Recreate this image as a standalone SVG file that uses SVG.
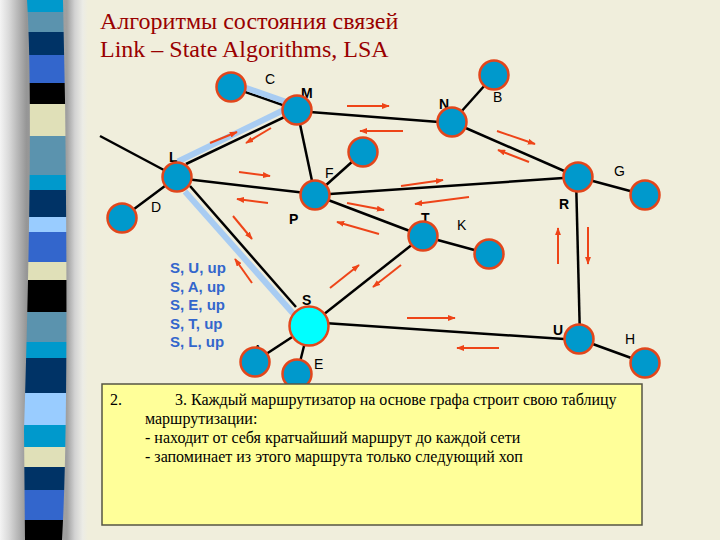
<svg xmlns="http://www.w3.org/2000/svg" width="720" height="540" viewBox="0 0 720 540">
<defs>
<linearGradient id="shade" gradientUnits="userSpaceOnUse" x1="0" y1="0" x2="88" y2="0">
<stop offset="0" stop-color="#F4F4F4"/>
<stop offset="0.1" stop-color="#DADADA"/>
<stop offset="0.3" stop-color="#969696"/>
<stop offset="0.76" stop-color="#A0A0A0"/>
<stop offset="0.85" stop-color="#D2D2D2"/>
<stop offset="0.94" stop-color="#ECECE6"/>
<stop offset="1" stop-color="#F0EEDC"/>
</linearGradient>
<clipPath id="col">
<path d="M27,0 Q34,110 24,430 L25,540 L62,540 Q69,420 65,100 L63,0 Z"/>
</clipPath>
<marker id="ah" viewBox="0 0 4 3" refX="3.6" refY="1.5" markerWidth="4" markerHeight="3" orient="auto" markerUnits="strokeWidth">
<path d="M0,0 L4,1.5 L0,3 Z" fill="#EE4418"/>
</marker>
<style>
.title{font-family:"Liberation Serif","Times New Roman",serif;font-size:24px;fill:#990000}
.lbl{font-family:"Liberation Sans",Arial,sans-serif;font-size:14px;fill:#000}
.b{font-weight:bold}
.nd{fill:#0099CC;stroke:#E2461C;stroke-width:2.5}
.src{fill:#00FFFF;stroke:#E2461C;stroke-width:2.5}
.edge{stroke:#000;stroke-width:2.5;fill:none}
.path{stroke:#A8CCF2;stroke-width:6;fill:none}
.arr{stroke:#EE4418;stroke-width:2;fill:none;marker-end:url(#ah)}
.lsa{font-family:"Liberation Sans",Arial,sans-serif;font-size:15px;font-weight:bold;fill:#3366CC}
.box{font-family:"Liberation Serif","Times New Roman",serif;font-size:16px;fill:#000}
</style>
</defs>
<rect width="720" height="540" fill="#F0EEDC"/>
<rect x="0" y="0" width="88" height="540" fill="url(#shade)"/>
<g id="stripes" clip-path="url(#col)">
<rect x="20" y="0" width="52" height="12" fill="#0099CC"/>
<rect x="20" y="12" width="52" height="20" fill="#5B93AE"/>
<rect x="20" y="32" width="52" height="23" fill="#003366"/>
<rect x="20" y="55" width="52" height="28" fill="#3366CC"/>
<rect x="20" y="83" width="52" height="21" fill="#000000"/>
<rect x="20" y="104" width="52" height="32" fill="#E0E0B8"/>
<rect x="20" y="136" width="52" height="39" fill="#5B93AE"/>
<rect x="20" y="175" width="52" height="15" fill="#0099CC"/>
<rect x="20" y="190" width="52" height="27" fill="#003366"/>
<rect x="20" y="217" width="52" height="15" fill="#99CCFF"/>
<rect x="20" y="232" width="52" height="30" fill="#3366CC"/>
<rect x="20" y="262" width="52" height="18" fill="#E0E0B8"/>
<rect x="20" y="280" width="52" height="32" fill="#000000"/>
<rect x="20" y="312" width="52" height="30" fill="#5B93AE"/>
<rect x="20" y="342" width="52" height="16" fill="#0099CC"/>
<rect x="20" y="358" width="52" height="35" fill="#003366"/>
<rect x="20" y="393" width="52" height="32" fill="#99CCFF"/>
<rect x="20" y="425" width="52" height="22" fill="#0099CC"/>
<rect x="20" y="447" width="52" height="20" fill="#E0E0B8"/>
<rect x="20" y="467" width="52" height="23" fill="#003366"/>
<rect x="20" y="490" width="52" height="30" fill="#3366CC"/>
<rect x="20" y="520" width="52" height="20" fill="#000000"/>
</g>
<g id="title">
<text class="title" x="100" y="29">Алгоритмы состояния связей</text>
<text class="title" x="100" y="57">Link – State Algorithms, LSA</text>
</g>
<g id="connectors">
<line class="edge" x1="100" y1="136" x2="177" y2="177"/>
<line class="edge" x1="177" y1="177" x2="122" y2="218"/>
<line class="edge" x1="177" y1="178" x2="315" y2="194"/>
<line class="edge" x1="186" y1="164" x2="297" y2="111"/>
<line class="edge" x1="190" y1="186" x2="296" y2="307"/>
<line class="edge" x1="231" y1="87" x2="297" y2="110"/>
<line class="edge" x1="297" y1="111" x2="452" y2="123"/>
<line class="edge" x1="297" y1="110" x2="315" y2="195"/>
<line class="edge" x1="452" y1="122" x2="494" y2="75"/>
<line class="edge" x1="452" y1="122" x2="578" y2="177"/>
<line class="edge" x1="315" y1="195" x2="363" y2="152"/>
<line class="edge" x1="315" y1="195" x2="578" y2="177"/>
<line class="edge" x1="315" y1="195" x2="423" y2="236"/>
<line class="edge" x1="423" y1="236" x2="489" y2="254"/>
<line class="edge" x1="423" y1="236" x2="309" y2="326"/>
<line class="edge" x1="309" y1="322" x2="579" y2="340"/>
<line class="edge" x1="309" y1="326" x2="254" y2="362"/>
<line class="edge" x1="309" y1="326" x2="297" y2="374"/>
<line class="edge" x1="576" y1="177" x2="580" y2="339"/>
<line class="edge" x1="578" y1="177" x2="645" y2="195"/>
<line class="edge" x1="579" y1="339" x2="645" y2="363"/>
<line class="path" x1="232" y1="83" x2="298" y2="106"/>
<line class="path" x1="178" y1="161.5" x2="292" y2="106"/>
<line class="path" x1="185" y1="191.5" x2="298" y2="319"/>
</g>
<g id="updates">
<line class="arr" x1="347" y1="106" x2="389" y2="106"/>
<line class="arr" x1="403" y1="131" x2="360" y2="131"/>
<line class="arr" x1="497" y1="131" x2="535" y2="144"/>
<line class="arr" x1="529" y1="162" x2="498" y2="150"/>
<line class="arr" x1="401" y1="186" x2="443" y2="180"/>
<line class="arr" x1="469" y1="197" x2="415" y2="204"/>
<line class="arr" x1="347" y1="203" x2="384" y2="210"/>
<line class="arr" x1="379" y1="234" x2="337" y2="222"/>
<line class="arr" x1="558" y1="264" x2="558" y2="228"/>
<line class="arr" x1="588" y1="227" x2="588" y2="264"/>
<line class="arr" x1="407" y1="318" x2="455" y2="318"/>
<line class="arr" x1="499" y1="348" x2="457" y2="348"/>
<line class="arr" x1="330" y1="288" x2="359" y2="265"/>
<line class="arr" x1="401" y1="265" x2="373" y2="287"/>
<line class="arr" x1="252" y1="283" x2="235" y2="259"/>
<line class="arr" x1="233" y1="216" x2="252" y2="239"/>
<line class="arr" x1="239" y1="172" x2="270" y2="176"/>
<line class="arr" x1="268" y1="203" x2="237" y2="199"/>
<line class="arr" x1="210" y1="143" x2="237" y2="132"/>
<line class="arr" x1="271" y1="128" x2="246" y2="143"/>
</g>
<g id="node-C"><text class="lbl" x="265" y="84">C</text><circle class="nd" cx="231" cy="87" r="14.5"/></g>
<g id="node-M"><text class="lbl b" x="301" y="98">M</text><circle class="nd" cx="297" cy="110" r="14.5"/></g>
<g id="node-N"><text class="lbl b" x="439" y="109">N</text><circle class="nd" cx="452" cy="122" r="14.5"/></g>
<g id="node-B"><text class="lbl" x="493" y="102">B</text><circle class="nd" cx="494" cy="75" r="14.5"/></g>
<g id="node-F"><text class="lbl" x="325" y="178">F</text><circle class="nd" cx="363" cy="152" r="14.5"/></g>
<g id="node-L"><text class="lbl b" x="169" y="162">L</text><circle class="nd" cx="177" cy="177" r="14.5"/></g>
<g id="node-D"><text class="lbl" x="151" y="212">D</text><circle class="nd" cx="122" cy="218" r="14.5"/></g>
<g id="node-P"><text class="lbl b" x="289" y="224">P</text><circle class="nd" cx="315" cy="195" r="14.5"/></g>
<g id="node-R"><text class="lbl b" x="559" y="209">R</text><circle class="nd" cx="578" cy="177" r="14.5"/></g>
<g id="node-G"><text class="lbl" x="614" y="176">G</text><circle class="nd" cx="645" cy="195" r="14.5"/></g>
<g id="node-T"><text class="lbl b" x="421" y="223">T</text><circle class="nd" cx="423" cy="236" r="14.5"/></g>
<g id="node-K"><text class="lbl" x="457" y="230">K</text><circle class="nd" cx="489" cy="254" r="14.5"/></g>
<g id="node-A"><text class="lbl" x="253" y="355">A</text><circle class="nd" cx="255" cy="362" r="14.5"/></g>
<g id="node-E"><text class="lbl" x="314" y="369">E</text><circle class="nd" cx="297" cy="374" r="14.5"/></g>
<g id="node-S"><text class="lbl b" x="302" y="305">S</text><circle class="src" cx="309" cy="326" r="19.5"/></g>
<g id="node-U"><text class="lbl b" x="553" y="335">U</text><circle class="nd" cx="579" cy="339" r="14.5"/></g>
<g id="node-H"><text class="lbl" x="625" y="344">H</text><circle class="nd" cx="645" cy="363" r="14.5"/></g>
<g id="lsa-list">
<text class="lsa" x="170" y="273">S, U, up</text>
<text class="lsa" x="170" y="292">S, A, up</text>
<text class="lsa" x="170" y="310">S, E, up</text>
<text class="lsa" x="170" y="329">S, T, up</text>
<text class="lsa" x="170" y="347">S, L, up</text>
</g>
<g id="note">
<rect x="102" y="384" width="540" height="141" fill="#FFFF99" stroke="#555544" stroke-width="1.5"/>
<text class="box" x="110" y="405">2.</text>
<text class="box" x="175" y="405">3. Каждый маршрутизатор на основе графа строит свою таблицу</text>
<text class="box" x="145" y="424">маршрутизации:</text>
<text class="box" x="145" y="443">- находит от себя кратчайший маршрут до каждой сети</text>
<text class="box" x="145" y="462">- запоминает из этого маршрута только следующий хоп</text>
</g>
</svg>
